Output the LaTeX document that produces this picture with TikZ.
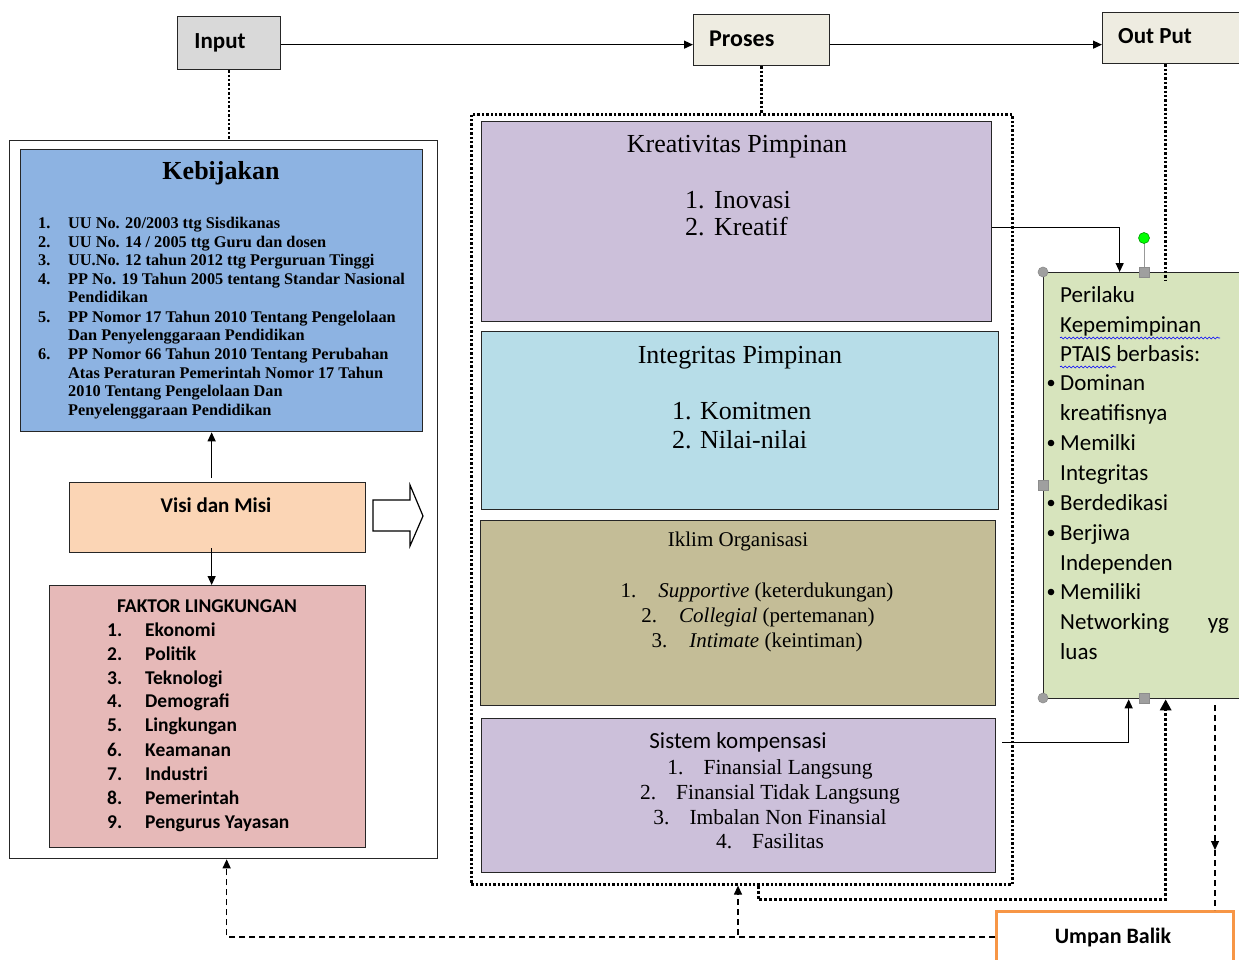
\documentclass[tikz,border=0pt]{standalone}
\usepackage{fontspec}
\setmainfont{Liberation Serif}
\newfontfamily\calib{Carlito}
\usetikzlibrary{arrows.meta,decorations.pathmorphing}
\newcommand\fsz[1]{\fontsize{#1}{#1}\selectfont}
\definecolor{cinput}{HTML}{D9D9D9}
\definecolor{cproc}{HTML}{EEECE1}
\definecolor{ckeb}{HTML}{8DB3E2}
\definecolor{cvisi}{HTML}{FBD5B5}
\definecolor{cfak}{HTML}{E6B9B8}
\definecolor{clav}{HTML}{CCC0DA}
\definecolor{cint}{HTML}{B7DDE8}
\definecolor{ciklim}{HTML}{C4BD97}
\definecolor{cgreen}{HTML}{D7E4BD}
\definecolor{corange}{HTML}{F79646}
\begin{document}
\begin{tikzpicture}[x=1pt,y=-1pt,
  box/.style={draw=black!85, line width=1.3pt, anchor=north west, inner sep=0pt},
  arr/.style={line width=1.2pt, -{Triangle[length=9pt,width=8pt]}},
  dots/.style={line width=2.6pt, dash pattern=on 2.4pt off 2pt},
  dsh/.style={line width=1.1pt, dash pattern=on 6pt off 4pt},
  txt/.style={inner sep=0pt, anchor=mid west, yshift=-5pt},
  ctxt/.style={inner sep=0pt, anchor=mid, yshift=-5pt},
  handle/.style={fill=gray!75, draw=gray!90, line width=0.6pt},
]
\clip (0,0) rectangle (1239,960);
\fill[white] (0,0) rectangle (1239,960);

% ---------- top boxes ----------
\node[box, fill=cinput, minimum width=103pt, minimum height=53pt] (input) at (177,16) {};
\node[ctxt, font=\calib\bfseries\fsz{23}] (tinput) at (220,41) {Input};
\node[box, fill=cproc, minimum width=136pt, minimum height=51pt] (proses) at (693,14) {};
\node[txt, font=\calib\bfseries\fsz{24}] (tproses) at (709,39) {Proses};
\node[box, fill=cproc, minimum width=143pt, minimum height=51pt] (output) at (1102,12) {};
\node[txt, font=\calib\bfseries\fsz{23}] (toutput) at (1118,36) {Out Put};

\draw[arr] ([yshift=-1.5pt]input.east) -- ([yshift=-1.5pt]input.east -| proses.west);
\draw[arr] ([yshift=-4.5pt]proses.east) -- ([yshift=-4.5pt]proses.east -| output.west);

% ---------- left block ----------
\node[box, fill=white, minimum width=428pt, minimum height=718pt] (outer) at (9,140) {};
\draw[dots] (input.south) -- (input.south |- outer.north);

\node[box, fill=ckeb, minimum width=402pt, minimum height=282pt] (keb) at (20,149) {};
\node[ctxt, font=\bfseries\fsz{26}] (tkeb) at (221,172) {Kebijakan};
\begin{scope}[every node/.style={txt, yshift=1pt, font=\bfseries\fsz{16.3}}]
\node (k1n) at (38,222) {1.}; \node (k1) at (68,222) {UU No. 20/2003 ttg Sisdikanas};
\node (k2n) at (38,241) {2.}; \node (k2) at (68,241) {UU No. 14 / 2005 ttg Guru dan dosen};
\node (k3n) at (38,259) {3.}; \node (k3) at (68,259) {UU.No. 12 tahun 2012 ttg Perguruan Tinggi};
\node (k4n) at (38,278) {4.}; \node (k4) at (68,278) {PP No. 19 Tahun 2005 tentang Standar Nasional};
\node (k4b) at (68,296) {Pendidikan};
\node (k5n) at (38,316) {5.}; \node (k5) at (68,316) {PP Nomor 17 Tahun 2010 Tentang Pengelolaan};
\node (k5b) at (68,334) {Dan Penyelenggaraan Pendidikan};
\node (k6n) at (38,353) {6.}; \node (k6) at (68,353) {PP Nomor 66 Tahun 2010 Tentang Perubahan};
\node (k6b) at (68,372) {Atas Peraturan Pemerintah Nomor 17 Tahun};
\node (k6c) at (68,390) {2010 Tentang Pengelolaan Dan};
\node (k6d) at (68,409) {Penyelenggaraan Pendidikan};
\end{scope}

\node[box, fill=cvisi, minimum width=296pt, minimum height=70pt] (visi) at (69,482) {};
\node[ctxt, font=\calib\bfseries\fsz{21}] (tvisi) at (216,505) {Visi dan Misi};

\node[box, fill=cfak, minimum width=316pt, minimum height=262pt] (faktor) at (49,585) {};
\node[ctxt, font=\calib\bfseries\fsz{19.5}] (tfak) at (207,605) {FAKTOR LINGKUNGAN};
\begin{scope}[every node/.style={txt, font=\calib\bfseries\fsz{19.5}}]
\node (f1n) at (107,629) {1.}; \node (f1) at (145,629) {Ekonomi};
\node (f2n) at (107,653) {2.}; \node (f2) at (145,653) {Politik};
\node (f3n) at (107,677) {3.}; \node (f3) at (145,677) {Teknologi};
\node (f4n) at (107,700) {4.}; \node (f4) at (145,700) {Demografi};
\node (f5n) at (107,724) {5.}; \node (f5) at (145,724) {Lingkungan};
\node (f6n) at (107,749) {6.}; \node (f6) at (145,749) {Keamanan};
\node (f7n) at (107,773) {7.}; \node (f7) at (145,773) {Industri};
\node (f8n) at (107,797) {8.}; \node (f8) at (145,797) {Pemerintah};
\node (f9n) at (107,821) {9.}; \node (f9) at (145,821) {Pengurus Yayasan};
\end{scope}

\draw[arr] ([xshift=-6pt,yshift=4pt]visi.north) -- ([xshift=-6pt]visi.north |- keb.south);
\draw[arr] ([xshift=-6pt,yshift=5pt]visi.south) -- ([xshift=-6pt]visi.south |- faktor.north);

% hollow block arrow
\draw[line width=1.2pt, fill=white, line join=miter]
  (373,500) -- (410,500) -- (410,485) -- (423,516) -- (410,546) -- (410,531) -- (373,531) -- cycle;

% ---------- process block ----------
\node[box, draw=black, dots, minimum width=541pt, minimum height=770pt] (dotbox) at (470,113) {};
\draw[dots] (proses.south) -- (proses.south |- dotbox.north);

\node[box, fill=clav, minimum width=510pt, minimum height=200pt] (kreat) at (481,121) {};
\node[ctxt, font=\fsz{26}] (tkreat) at (737,145) {Kreativitas Pimpinan};
\node[txt, font=\fsz{26}] (kr1n) at (685,201) {1.};
\node[txt, font=\fsz{26}] (kr1) at (714,201) {Inovasi};
\node[txt, font=\fsz{26}] (kr2n) at (685,228) {2.};
\node[txt, font=\fsz{26}] (kr2) at (714,228) {Kreatif};

\node[box, fill=cint, minimum width=517pt, minimum height=178pt] (integ) at (481,331) {};
\node[ctxt, font=\fsz{26}] (tinteg) at (740,356) {Integritas Pimpinan};
\node[txt, font=\fsz{26}] (in1n) at (672,412) {1.};
\node[txt, font=\fsz{26}] (in1) at (700,412) {Komitmen};
\node[txt, font=\fsz{26}] (in2n) at (672,441) {2.};
\node[txt, font=\fsz{26}] (in2) at (700,441) {Nilai-nilai};

\node[box, fill=ciklim, minimum width=515pt, minimum height=185pt] (iklim) at (480,520) {};
\node[ctxt, font=\fsz{21}] (tiklim) at (738,539) {Iklim Organisasi};
\node[ctxt, font=\fsz{21}] (ik1) at (757,590) {1.\hspace{22pt}\textit{Supportive} (keterdukungan)};
\node[ctxt, font=\fsz{21}] (ik2) at (758,615) {2.\hspace{22pt}\textit{Collegial} (pertemanan)};
\node[ctxt, font=\fsz{21}] (ik3) at (757,640) {3.\hspace{22pt}\textit{Intimate} (keintiman)};

\node[box, fill=clav, minimum width=514pt, minimum height=154pt] (sistem) at (481,718) {};
\node[ctxt, font=\calib\fsz{23}] (tsis) at (738,741) {Sistem kompensasi};
\node[ctxt, font=\fsz{21.5}] (s1) at (770,767) {1.\hspace{20pt}Finansial Langsung};
\node[ctxt, font=\fsz{21.5}] (s2) at (770,792) {2.\hspace{20pt}Finansial Tidak Langsung};
\node[ctxt, font=\fsz{21.5}] (s3) at (770,817) {3.\hspace{20pt}Imbalan Non Finansial};
\node[ctxt, font=\fsz{21.5}] (s4) at (770,841) {4.\hspace{20pt}Fasilitas};

% ---------- output block ----------
\node[box, fill=cgreen, minimum width=202pt, minimum height=426pt] (green) at (1043,272) {};
\draw[dots] ([xshift=-8.5pt]output.south) -- ([xshift=21pt,yshift=-8pt]green.north);
\begin{scope}[every node/.style={txt, font=\calib\fsz{23}}]
\node (g1) at (1060,295) {Perilaku};
\node (g2) at (1060,325) {Kepemimpinan};
\node (g3) at (1060,354) {PTAIS berbasis:};
\node (g4) at (1060,383) {Dominan};
\node (g5) at (1060,413) {kreatifisnya};
\node (g6) at (1060,443) {Memilki};
\node (g7) at (1060,473) {Integritas};
\node (g8) at (1060,503) {Berdedikasi};
\node (g9) at (1060,533) {Berjiwa};
\node (g10) at (1060,563) {Independen};
\node (g11) at (1060,592) {Memiliki};
\node (g12) at (1060,622) {Networking};
\node[anchor=mid east] (g12b) at (1229,622) {yg};
\node (g13) at (1060,652) {luas};
\end{scope}
\foreach \yy in {383,443,503,533,592} \fill (1051,\yy) circle (3.3pt);
\draw[blue, line width=0.6pt, decorate, decoration={snake, amplitude=1pt, segment length=4pt}] (1060,338) -- (1220,338);
\draw[blue, line width=0.6pt, decorate, decoration={snake, amplitude=1pt, segment length=4pt}] (1060,367) -- (1116,367);

% selection handles
\draw[gray!80, line width=1pt] (1144,238) -- (1144,267);
\filldraw[fill=green!100, draw=green!60!black, line width=0.6pt] (1144,238) circle (5.5pt);
\fill[handle] (1043,272) circle (5pt);
\fill[handle] (1043,698) circle (5pt);
\filldraw[handle] (1139,267) rectangle (1149,277);
\filldraw[handle] (1038,480) rectangle (1048,490);
\filldraw[handle] (1139,693) rectangle (1149,703);

% connectors into green
\draw[arr] ([yshift=-6pt]kreat.east) -| ([xshift=-25pt]green.north);
\draw[arr] ([xshift=6pt,yshift=53pt]sistem.east) -| ([xshift=-16pt]green.south);
\draw[line width=3.4pt, dash pattern=on 3pt off 2pt, -{Triangle[length=11pt,width=11pt]}]
  ([xshift=16.5pt]dotbox.south) -- ++(0,14) -| ([xshift=21pt]green.south);

% ---------- feedback ----------
\node[box, draw=corange, line width=3pt, fill=white, minimum width=237pt, minimum height=56pt] (umpan) at (995,910) {};
\node[ctxt, font=\calib\bfseries\fsz{22}] (tumpan) at (1113,936) {Umpan Balik};
\draw[dsh, arr] ([yshift=2.5pt]umpan.west) -| ([xshift=3pt]outer.south);
\coordinate (br) at (738,935);
\draw[dsh, arr] (br) -- (br |- dotbox.south);
\coordinate (rd) at (1215,705);
\coordinate (rm) at (1215,850);
\draw[dsh, arr] (rd) -- (rm);
\draw[dsh] (rm) -- (rm |- umpan.north);
\end{tikzpicture}
\end{document}
